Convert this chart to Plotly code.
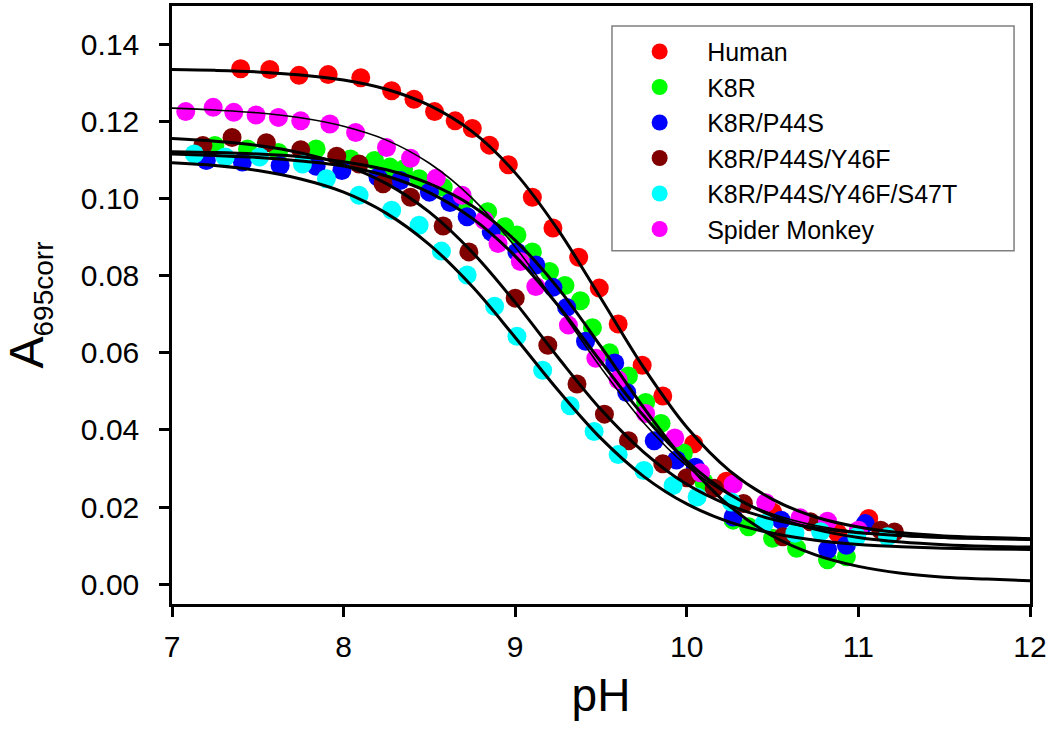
import plotly.graph_objects as go

# ---------------- data ----------------
series_names = ["Human", "K8R", "K8R/P44S", "K8R/P44S/Y46F", "K8R/P44S/Y46F/S47T", "Spider Monkey"]
series_colors = ["#FF0000", "#00FF00", "#0000FF", "#800000", "#00FFFF", "#FF00FF"]

human_ph = [7.40, 7.57, 7.74, 7.91, 8.10, 8.28, 8.41, 8.53, 8.65, 8.75, 8.85, 8.96, 9.10, 9.22, 9.37,
            9.49, 9.60, 9.74, 9.86, 10.04, 10.23, 10.50, 10.88, 11.06]
human_a = [0.1337, 0.1335, 0.1320, 0.1322, 0.1314, 0.1280, 0.1258, 0.1226, 0.1202, 0.1182, 0.1139, 0.1088,
           0.1004, 0.0924, 0.0848, 0.0768, 0.0675, 0.0568, 0.0488, 0.0364, 0.0267, 0.0187, 0.0132, 0.0170]

k8r_ph = [7.25, 7.44, 7.62, 7.84, 8.04, 8.18, 8.27, 8.35, 8.44, 8.58, 8.70, 8.84, 8.94, 9.01, 9.10, 9.20,
          9.29, 9.38, 9.45, 9.55, 9.66, 9.76, 9.85, 9.98, 10.10, 10.27, 10.36, 10.50, 10.64, 10.82, 10.93]
k8r_a = [0.1138, 0.1129, 0.1120, 0.1129, 0.1103, 0.1099, 0.1082, 0.1077, 0.1052, 0.1030, 0.0995, 0.0966,
         0.0927, 0.0906, 0.0862, 0.0811, 0.0775, 0.0735, 0.0665, 0.0600, 0.0540, 0.0471, 0.0417, 0.0340,
         0.0265, 0.0166, 0.0149, 0.0119, 0.0093, 0.0063, 0.0071]

p44s_ph = [7.20, 7.41, 7.63, 7.84, 7.99, 8.20, 8.33, 8.50, 8.62, 8.72, 8.86, 9.01, 9.12, 9.22, 9.30, 9.41,
           9.58, 9.65, 9.81, 9.94, 10.05, 10.27, 10.55, 10.82, 10.93, 11.04]
p44s_a = [0.1099, 0.1095, 0.1086, 0.1084, 0.1073, 0.1056, 0.1047, 0.1017, 0.0990, 0.0953, 0.0914, 0.0862,
          0.0828, 0.0770, 0.0718, 0.0630, 0.0574, 0.0497, 0.0372, 0.0322, 0.0303, 0.0174, 0.0166, 0.0090,
          0.0101, 0.0157]

y46f_ph = [7.18, 7.35, 7.55, 7.75, 7.96, 8.09, 8.23, 8.39, 8.58, 8.73, 9.00, 9.19, 9.36, 9.52, 9.66, 9.86,
           10.00, 10.16, 10.33, 10.56, 10.72, 11.13, 11.21]
y46f_a = [0.1138, 0.1159, 0.1145, 0.1127, 0.1110, 0.1090, 0.1039, 0.1004, 0.0929, 0.0862, 0.0742, 0.0620,
          0.0519, 0.0441, 0.0372, 0.0312, 0.0276, 0.0249, 0.0209, 0.0123, 0.0162, 0.0140, 0.0135]

s47t_ph = [7.13, 7.31, 7.51, 7.76, 7.90, 8.09, 8.28, 8.44, 8.57, 8.72, 8.88, 9.01, 9.16, 9.32, 9.46, 9.60,
           9.75, 9.92, 10.06, 10.26, 10.45, 10.63, 10.78, 10.99, 11.17]
s47t_a = [0.1116, 0.1108, 0.1108, 0.1090, 0.1052, 0.1009, 0.0970, 0.0931, 0.0864, 0.0802, 0.0721, 0.0643,
          0.0555, 0.0463, 0.0396, 0.0336, 0.0295, 0.0256, 0.0226, 0.0213, 0.0157, 0.0132, 0.0136, 0.0123,
          0.0123]

spider_ph = [7.08, 7.24, 7.36, 7.49, 7.62, 7.75, 7.92, 8.07, 8.25, 8.39, 8.54, 8.69, 8.82, 8.90, 9.03, 9.12,
             9.31, 9.47, 9.60, 9.76, 9.93, 10.08, 10.27, 10.46, 10.66, 10.82, 11.00]
spider_a = [0.1226, 0.1237, 0.1224, 0.1217, 0.1211, 0.1202, 0.1194, 0.1172, 0.1133, 0.1105, 0.1053, 0.1009,
            0.0944, 0.0884, 0.0837, 0.0772, 0.0672, 0.0586, 0.0530, 0.0443, 0.0379, 0.0289, 0.0259, 0.0211,
            0.0172, 0.0163, 0.0140]

# fitted curves, read at every 0.25 pH unit
fit_ph = [7.0, 7.25, 7.5, 7.75, 8.0, 8.25, 8.5, 8.75, 9.0, 9.25, 9.5, 9.75, 10.0, 10.25, 10.5, 10.75,
          11.0, 11.25, 11.5, 11.75, 12.0]
fit_human = [0.1335, 0.1333, 0.1329, 0.1321, 0.1308, 0.1284, 0.1242, 0.1174, 0.1067, 0.0919, 0.0741,
             0.0561, 0.0407, 0.0294, 0.0220, 0.0174, 0.0148, 0.0133, 0.0125, 0.0121, 0.0118]
fit_k8r = [0.1122, 0.1120, 0.1116, 0.1109, 0.1096, 0.1075, 0.1039, 0.0981, 0.0892, 0.0768, 0.0616,
           0.0457, 0.0314, 0.0202, 0.0125, 0.0076, 0.0046, 0.0028, 0.0018, 0.0013, 0.0009]
fit_p44s = [0.1116, 0.1112, 0.1107, 0.1098, 0.1085, 0.1059, 0.1016, 0.0949, 0.0851, 0.0723, 0.0577,
            0.0436, 0.0319, 0.0233, 0.0177, 0.0142, 0.0121, 0.0109, 0.0102, 0.0098, 0.0096]
fit_y46f = [0.1156, 0.1149, 0.1138, 0.1119, 0.1088, 0.1039, 0.0965, 0.0861, 0.0731, 0.0588, 0.0453,
            0.0342, 0.0259, 0.0204, 0.0168, 0.0146, 0.0133, 0.0126, 0.0121, 0.0119, 0.0117]
fit_s47t = [0.1093, 0.1086, 0.1073, 0.1051, 0.1017, 0.0962, 0.0881, 0.0772, 0.0640, 0.0503, 0.0378,
            0.0279, 0.0208, 0.0161, 0.0132, 0.0114, 0.0103, 0.0097, 0.0093, 0.0091, 0.0090]
fit_spider = [0.1235, 0.1230, 0.1223, 0.1210, 0.1188, 0.1152, 0.1092, 0.1001, 0.0875, 0.0721, 0.0561,
              0.0418, 0.0307, 0.0231, 0.0182, 0.0152, 0.0135, 0.0125, 0.0119, 0.0116, 0.0114]

x_ticks = [7, 8, 9, 10, 11, 12]
y_ticks = [0.00, 0.02, 0.04, 0.06, 0.08, 0.10, 0.12, 0.14]

# ---------------- figure ----------------
FONT = "Arial, Liberation Sans, sans-serif"
points = [
    (human_ph, human_a, 0),
    (k8r_ph, k8r_a, 1),
    (p44s_ph, p44s_a, 2),
    (y46f_ph, y46f_a, 3),
    (spider_ph, spider_a, 5),
    (s47t_ph, s47t_a, 4),
]
fits = [
    (fit_human, 3), (fit_k8r, 3), (fit_p44s, 3), (fit_y46f, 3), (fit_s47t, 3), (fit_spider, 1.6),
]

fig = go.Figure()
for xs, ys, i in points:
    fig.add_trace(go.Scatter(
        x=xs, y=ys, mode="markers", name=series_names[i], legendrank=i + 1,
        marker=dict(size=19, color=series_colors[i], line=dict(width=0)),
    ))
for ys, w in fits:
    fig.add_trace(go.Scatter(
        x=fit_ph, y=ys, mode="lines", showlegend=False, hoverinfo="skip",
        line=dict(color="black", width=w, shape="spline", smoothing=1.0),
    ))

axis_common = dict(
    showline=True, linecolor="black", linewidth=2.5, mirror=True,
    ticks="outside", ticklen=10, tickwidth=2.5, tickcolor="black",
    showgrid=False, zeroline=False,
    tickfont=dict(family=FONT, size=30, color="black"),
)
fig.update_xaxes(
    range=[7, 12], tickvals=x_ticks, ticklabelstandoff=4,
    title=dict(text="pH", font=dict(family=FONT, size=46, color="black"), standoff=18),
    **axis_common,
)
fig.update_yaxes(
    range=[-0.00516, 0.15], tickvals=y_ticks, tickformat=".2f", ticklabelstandoff=14,
    title=dict(text="A<sub><span style='font-size:28px'>695corr</span></sub>",
               font=dict(family=FONT, size=48, color="black"), standoff=34),
    **axis_common,
)
# legend frame (wider than the automatic legend box)
fig.add_shape(
    type="rect", xref="paper", yref="paper",
    x0=0.5128, x1=0.9814, y0=0.5907, y1=0.9667,
    line=dict(color="#7f7f7f", width=1.5), fillcolor="white", layer="above",
)
fig.update_layout(
    width=1050, height=742,
    margin=dict(l=172, r=20, t=3, b=138),
    plot_bgcolor="white", paper_bgcolor="white",
    showlegend=True,
    legend=dict(
        x=0.513, y=0.962, xanchor="left", yanchor="top",
        bgcolor="rgba(0,0,0,0)", borderwidth=0,
        font=dict(family=FONT, size=25, color="black"),
        itemwidth=85, tracegroupgap=0,
    ),
)
fig.write_html("out.html", config={"displayModeBar": False},
               post_script="document.body.style.margin='0';")
